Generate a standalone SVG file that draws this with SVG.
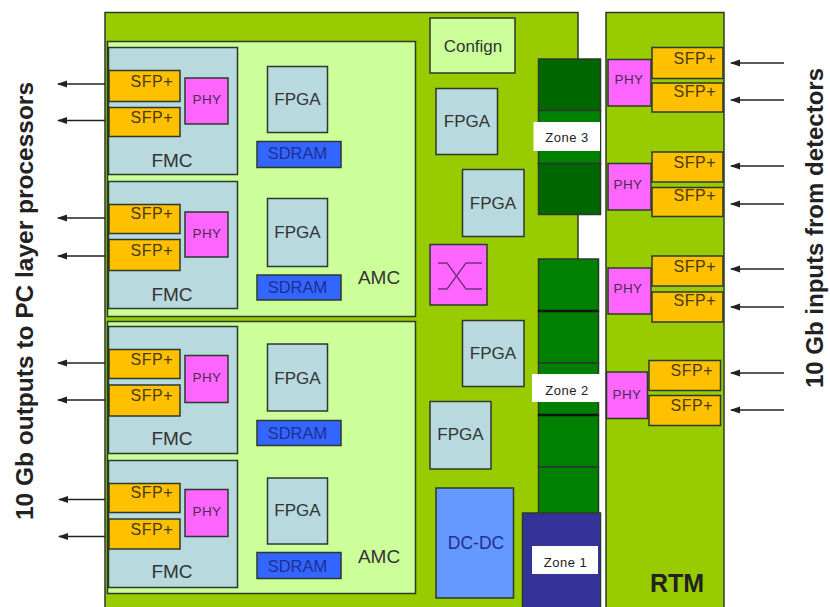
<svg xmlns="http://www.w3.org/2000/svg" width="830" height="607" viewBox="0 0 830 607">
<style>
text{font-family:"Liberation Sans",Arial,sans-serif;fill:#333;text-anchor:middle}
rect{stroke:#2b3a2b;stroke-width:1.5}
.board{fill:#99cc00}
.amc{fill:#ccff99}
.fmc,.fpga{fill:#b8d9de}
.sfp{fill:#ffc000}
.phy{fill:#ff66ff}
.sdram{fill:#3366ff}
.dc{fill:#6699ff}
.zd{fill:#006600}
.zm{fill:#008000}
.zb{fill:#333399}
.lbl{fill:#fff;stroke:none}
.t16{font-size:17px}
.t19{font-size:19px}
.t11{font-size:13px;letter-spacing:.5px;fill:#222}
.sf{font-size:16px;fill:#4a3a10;text-anchor:end;letter-spacing:.5px}
.ph{font-size:13.5px;fill:#4b2a55;letter-spacing:.4px}
.sd{font-size:16.500px;fill:#1e2f90}
.side{font-size:24px;font-weight:bold;fill:#222}
.c line{stroke:#222;stroke-width:1.4;marker-end:url(#a)}
</style>
<defs><marker id="a" markerUnits="userSpaceOnUse" markerWidth="10" markerHeight="8" refX="9" refY="4" orient="auto"><path d="M10 4L0 0.500V7.500Z" fill="#222"/></marker></defs>
<g id="board"><rect class="board" x="105" y="12.500" width="473" height="600"/></g>
<g id="rtm"><rect class="board" x="606" y="12.500" width="118" height="600"/><text x="677" y="592" style="font-size:25px;font-weight:bold;fill:#222">RTM</text></g>
<g id="amc1"><rect class="amc" x="107.500" y="41.500" width="308" height="275"/><text x="379" y="284" class="t19">AMC</text></g>
<g id="amc2"><rect class="amc" x="107.500" y="321.500" width="308" height="272"/><text x="379" y="563" class="t19">AMC</text></g>
<g id="fmc1"><rect class="fmc" x="108.500" y="47.500" width="129" height="127"/><text x="172" y="167" class="t19">FMC</text>
<rect class="sfp" x="109" y="70.500" width="71" height="31"/><text x="173" y="87" class="sf">SFP+</text>
<rect class="sfp" x="109" y="107.500" width="71" height="29"/><text x="173" y="123" class="sf">SFP+</text>
<rect class="phy" x="185" y="78" width="43" height="46"/><text x="207" y="104" class="ph">PHY</text></g>
<g id="fmc2"><rect class="fmc" x="108.500" y="181.500" width="129" height="127"/><text x="172" y="301" class="t19">FMC</text>
<rect class="sfp" x="109" y="204.500" width="71" height="29"/><text x="173" y="219" class="sf">SFP+</text>
<rect class="sfp" x="109" y="239.500" width="71" height="31"/><text x="173" y="256" class="sf">SFP+</text>
<rect class="phy" x="185" y="212" width="43" height="45"/><text x="207" y="238" class="ph">PHY</text></g>
<g id="fmc3"><rect class="fmc" x="108.500" y="326.500" width="129" height="127"/><text x="172" y="445" class="t19">FMC</text>
<rect class="sfp" x="109" y="349.500" width="71" height="29"/><text x="173" y="365" class="sf">SFP+</text>
<rect class="sfp" x="109" y="385" width="71" height="31"/><text x="173" y="401" class="sf">SFP+</text>
<rect class="phy" x="185" y="355.500" width="43" height="47"/><text x="207" y="382" class="ph">PHY</text></g>
<g id="fmc4"><rect class="fmc" x="108.500" y="460.500" width="129" height="127"/><text x="172" y="578" class="t19">FMC</text>
<rect class="sfp" x="109" y="483.500" width="71" height="29"/><text x="173" y="498" class="sf">SFP+</text>
<rect class="sfp" x="109" y="519" width="71" height="30"/><text x="173" y="535" class="sf">SFP+</text>
<rect class="phy" x="185" y="489.500" width="43" height="47"/><text x="207" y="516" class="ph">PHY</text></g>
<g id="fpga1"><rect class="fpga" x="267.500" y="66.500" width="60" height="66"/><text x="297.500" y="105" class="t16">FPGA</text></g>
<g id="sdram1"><rect class="sdram" x="257" y="141.500" width="84" height="26"/><text x="297.500" y="159" class="sd">SDRAM</text></g>
<g id="fpga2"><rect class="fpga" x="267.500" y="198.500" width="60" height="68"/><text x="297.500" y="238" class="t16">FPGA</text></g>
<g id="sdram2"><rect class="sdram" x="257" y="275" width="84" height="25"/><text x="297.500" y="293" class="sd">SDRAM</text></g>
<g id="fpga3"><rect class="fpga" x="267.500" y="344" width="60" height="67"/><text x="297.500" y="384" class="t16">FPGA</text></g>
<g id="sdram3"><rect class="sdram" x="257" y="420.500" width="84" height="25"/><text x="297.500" y="439" class="sd">SDRAM</text></g>
<g id="fpga4"><rect class="fpga" x="267.500" y="478" width="60" height="66"/><text x="297.500" y="516" class="t16">FPGA</text></g>
<g id="sdram4"><rect class="sdram" x="257" y="552.500" width="84" height="26"/><text x="297.500" y="572" class="sd">SDRAM</text></g>
<g id="config"><rect class="amc" x="430" y="18" width="85" height="55"/><text x="473" y="52" style="font-size:17px">Confign</text></g>
<g id="fpga5"><rect class="fpga" x="436" y="88.500" width="61.500" height="66"/><text x="467" y="127" class="t16">FPGA</text></g>
<g id="fpga6"><rect class="fpga" x="462.500" y="169.500" width="61.500" height="67"/><text x="493" y="209" class="t16">FPGA</text></g>
<g id="switch"><rect class="phy" x="430" y="244.500" width="57" height="60.500"/><path d="M438 263H447L466 289H482M438 289H447L466 263H482" fill="none" stroke="#70307a" stroke-width="1.300"/></g>
<g id="fpga7"><rect class="fpga" x="462.500" y="320.500" width="61.500" height="66"/><text x="493" y="359" class="t16">FPGA</text></g>
<g id="fpga8"><rect class="fpga" x="430" y="401.500" width="61" height="67.500"/><text x="460.500" y="440" class="t16">FPGA</text></g>
<g id="dcdc"><rect class="dc" x="436" y="488" width="77.500" height="110"/><text x="476" y="549" style="fill:#1e2f90;font-size:17.500px">DC-DC</text></g>
<g id="zone3"><rect class="zd" x="538.500" y="59" width="62" height="51.500"/><rect class="zm" x="538.500" y="110.500" width="62" height="53"/><rect class="zd" x="538.500" y="163.500" width="62" height="51"/><rect class="lbl" x="533.500" y="122" width="66.500" height="29"/><text x="567" y="142" class="t11">Zone 3</text></g>
<g id="zone2"><rect class="zm" x="538.500" y="259" width="60" height="52"/><rect class="zm" x="538.500" y="311" width="60" height="52"/><rect class="zm" x="538.500" y="363" width="60" height="52"/><rect class="zm" x="538.500" y="415" width="60" height="52"/><rect class="zm" x="538.500" y="467" width="60" height="47"/><path d="M538 311H598M538 415H598" stroke="#111" stroke-width="2.500"/><rect class="lbl" x="532" y="374" width="70" height="28"/><text x="567" y="395" class="t11">Zone 2</text></g>
<g id="zone1"><rect class="zb" x="522.500" y="513" width="78" height="99"/><rect class="lbl" x="532" y="546" width="66" height="28"/><text x="565.500" y="567" class="t11">Zone 1</text></g>
<g id="rtm1"><rect class="sfp" x="652" y="47.500" width="71" height="31"/><text x="716" y="64" class="sf">SFP+</text>
<rect class="sfp" x="652" y="83" width="71" height="29"/><text x="716" y="97" class="sf">SFP+</text>
<rect class="phy" x="608" y="59.500" width="43" height="46.500"/><text x="629" y="84" class="ph">PHY</text></g>
<g id="rtm2"><rect class="sfp" x="652" y="152" width="71" height="30"/><text x="716" y="168" class="sf">SFP+</text>
<rect class="sfp" x="652" y="187.500" width="71" height="29"/><text x="716" y="201" class="sf">SFP+</text>
<rect class="phy" x="608" y="163.500" width="43" height="46.500"/><text x="628" y="189" class="ph">PHY</text></g>
<g id="rtm3"><rect class="sfp" x="652" y="256" width="71" height="30"/><text x="716" y="272" class="sf">SFP+</text>
<rect class="sfp" x="652" y="292" width="71" height="30"/><text x="716" y="306" class="sf">SFP+</text>
<rect class="phy" x="608" y="268" width="43" height="46"/><text x="628" y="293" class="ph">PHY</text></g>
<g id="rtm4"><rect class="sfp" x="649" y="360.500" width="71.500" height="30"/><text x="713" y="376" class="sf">SFP+</text>
<rect class="sfp" x="649" y="395.500" width="71.500" height="30"/><text x="713" y="411" class="sf">SFP+</text>
<rect class="phy" x="606.500" y="372" width="41" height="46.500"/><text x="627" y="399" class="ph">PHY</text></g>
<g id="connectors" class="c">
<line x1="105" y1="84" x2="58" y2="84"/><line x1="105" y1="120.500" x2="58" y2="120.500"/><line x1="105" y1="218" x2="58" y2="218"/><line x1="105" y1="256" x2="58" y2="256"/><line x1="105" y1="363" x2="58" y2="363"/><line x1="105" y1="400" x2="58" y2="400"/><line x1="105" y1="499.500" x2="59" y2="499.500"/><line x1="105" y1="536.500" x2="59" y2="536.500"/>
<line x1="784" y1="63" x2="731" y2="63"/><line x1="784" y1="100" x2="731" y2="100"/><line x1="784" y1="166" x2="731" y2="166"/><line x1="784" y1="204" x2="731" y2="204"/><line x1="784" y1="269" x2="731" y2="269"/><line x1="784" y1="307" x2="731" y2="307"/><line x1="784" y1="373" x2="731" y2="373"/><line x1="784" y1="410" x2="731" y2="410"/>
</g>
<g id="left-label"><text transform="translate(33 301) rotate(-90)" class="side" textLength="438" lengthAdjust="spacingAndGlyphs">10 Gb outputs to PC layer processors</text></g>
<g id="right-label"><text transform="translate(823 228) rotate(-90)" class="side" textLength="320" lengthAdjust="spacingAndGlyphs">10 Gb inputs from detectors</text></g>
</svg>
